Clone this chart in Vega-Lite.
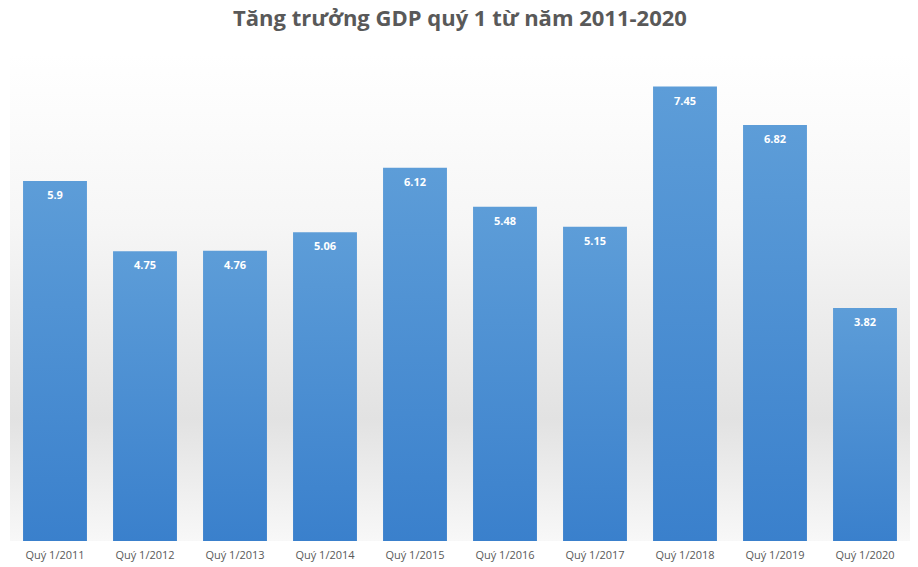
{
  "$schema": "https://vega.github.io/schema/vega-lite/v6.json",
  "autosize": "none",
  "width": 900,
  "height": 488,
  "padding": {"left": 10, "top": 53, "right": 8, "bottom": 26},
  "background": "#ffffff",
  "config": {
    "view": {
      "stroke": null,
      "fill": {
        "gradient": "linear", "x1": 0, "y1": 0, "x2": 0, "y2": 1,
        "stops": [
          {"offset": 0, "color": "#ffffff"},
          {"offset": 0.35, "color": "#f6f6f6"},
          {"offset": 0.75, "color": "#e2e2e2"},
          {"offset": 1, "color": "#f8f8f8"}
        ]
      }
    },
    "font": "Open Sans"
  },
  "title": {
    "text": "Tăng trưởng GDP quý 1 từ năm 2011-2020",
    "font": "Open Sans",
    "fontSize": 22,
    "fontWeight": "bold",
    "color": "#595959",
    "anchor": "middle",
    "offset": 22
  },
  "data": {
    "values": [
      {"q": "Quý 1/2011", "v": 5.9},
      {"q": "Quý 1/2012", "v": 4.75},
      {"q": "Quý 1/2013", "v": 4.76},
      {"q": "Quý 1/2014", "v": 5.06},
      {"q": "Quý 1/2015", "v": 6.12},
      {"q": "Quý 1/2016", "v": 5.48},
      {"q": "Quý 1/2017", "v": 5.15},
      {"q": "Quý 1/2018", "v": 7.45},
      {"q": "Quý 1/2019", "v": 6.82},
      {"q": "Quý 1/2020", "v": 3.82}
    ]
  },
  "encoding": {
    "x": {
      "field": "q", "type": "nominal", "sort": null,
      "scale": {"paddingInner": 0.29, "paddingOuter": 0.145},
      "axis": {"title": null, "labelAngle": 0, "domain": false, "ticks": false, "labelFont": "Open Sans", "labelFontSize": 11, "labelColor": "#595959", "labelPadding": 8}
    },
    "y": {
      "field": "v", "type": "quantitative",
      "scale": {"domain": [0, 8]},
      "axis": null
    }
  },
  "layer": [
    {
      "mark": {
        "type": "bar",
        "fill": {
          "gradient": "linear", "x1": 0, "y1": 0, "x2": 0, "y2": 1,
          "stops": [
            {"offset": 0, "color": "#5d9dd8"},
            {"offset": 1, "color": "#3a80cc"}
          ]
        }
      }
    },
    {
      "mark": {"type": "text", "baseline": "middle", "dy": 15, "color": "#ffffff", "fontWeight": "bold", "fontSize": 11, "font": "Open Sans"},
      "encoding": {"text": {"field": "v", "type": "quantitative"}}
    }
  ]
}
